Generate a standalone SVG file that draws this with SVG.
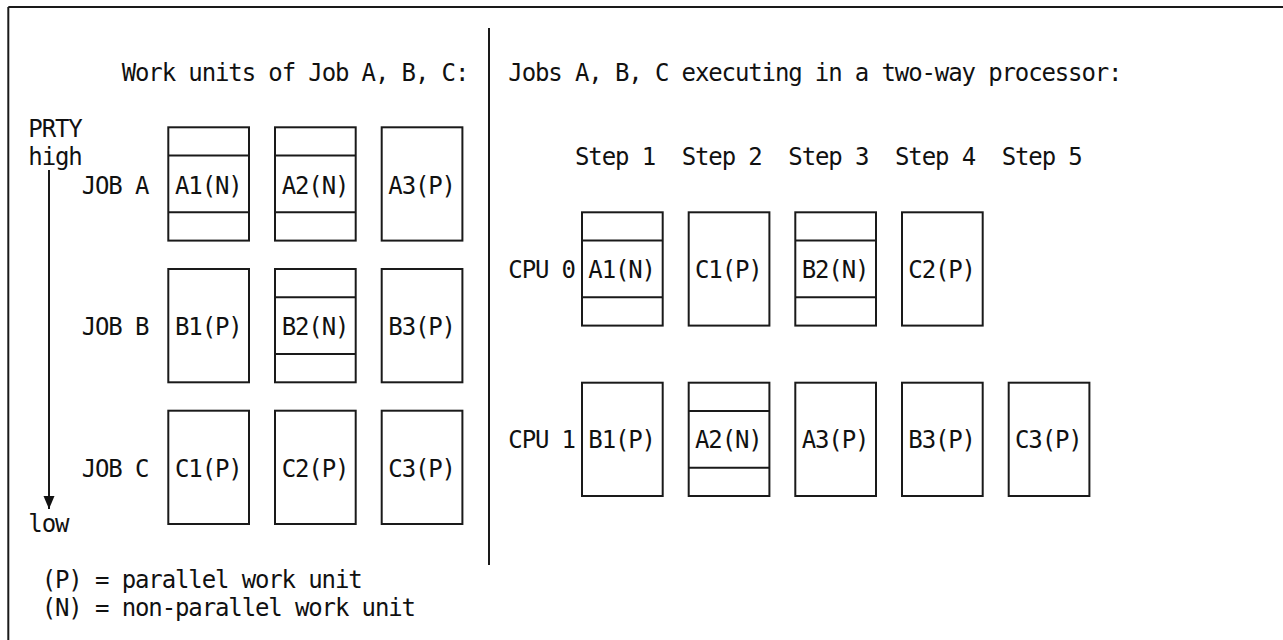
<svg xmlns="http://www.w3.org/2000/svg" width="1283" height="640" viewBox="0 0 1283 640">
<style>
text{font-family:"DejaVu Sans Mono","Liberation Mono",monospace;font-size:24px;letter-spacing:-1.12px;fill:#111}
.bx{fill:none;stroke:#1a1a1a;stroke-width:2}
.ln{stroke:#1a1a1a;stroke-width:2;fill:none}
</style>
<defs>
<marker id="ah" markerWidth="14" markerHeight="12" refX="13" refY="6" orient="auto" markerUnits="userSpaceOnUse" viewBox="0 0 14 12">
<path d="M0,0.5 L13,6 L0,11.5 Z" fill="#111"/>
</marker>
<g id="pbox"><rect class="bx" x="0" y="0" width="80.7" height="113.3"/></g>
<g id="nbox"><rect class="bx" x="0" y="0" width="80.7" height="113.3"/><line class="ln" x1="0" y1="28.3" x2="80.7" y2="28.3"/><line class="ln" x1="0" y1="85" x2="80.7" y2="85"/></g>
</defs>
<rect width="1283" height="640" fill="#fff"/>
<g id="frame">
<line class="ln" x1="8.3" y1="7" x2="1283" y2="7"/>
<line class="ln" x1="8.3" y1="7" x2="8.3" y2="640"/>
<line class="ln" x1="489" y1="28" x2="489" y2="565"/>
</g>
<g id="labels">
<text x="121.7" y="81">Work units of Job A, B, C:</text>
<text x="508.3" y="81">Jobs A, B, C executing in a two-way processor:</text>
<text x="28.3" y="137">PRTY</text>
<text x="28.3" y="165">high</text>
<text x="28.3" y="532">low</text>
<text x="81.7" y="193.5">JOB A</text>
<text x="81.7" y="335">JOB B</text>
<text x="81.7" y="476.5">JOB C</text>
<text x="41.7" y="588">(P) = parallel work unit</text>
<text x="41.7" y="616">(N) = non-parallel work unit</text>
<text x="575" y="165">Step 1</text>
<text x="681.7" y="165">Step 2</text>
<text x="788.3" y="165">Step 3</text>
<text x="895" y="165">Step 4</text>
<text x="1001.7" y="165">Step 5</text>
<text x="508.3" y="277.5">CPU 0</text>
<text x="508.3" y="447.5">CPU 1</text>
</g>
<g id="connectors">
<line class="ln" x1="49" y1="170" x2="49" y2="509" marker-end="url(#ah)"/>
</g>
<g id="jobA-A1"><use href="#nbox" x="168.3" y="127.3"/><text x="175" y="193.5">A1(N)</text></g>
<g id="jobA-A2"><use href="#nbox" x="275" y="127.3"/><text x="281.7" y="193.5">A2(N)</text></g>
<g id="jobA-A3"><use href="#pbox" x="381.7" y="127.3"/><text x="388.3" y="193.5">A3(P)</text></g>
<g id="jobB-B1"><use href="#pbox" x="168.3" y="269"/><text x="175" y="335">B1(P)</text></g>
<g id="jobB-B2"><use href="#nbox" x="275" y="269"/><text x="281.7" y="335">B2(N)</text></g>
<g id="jobB-B3"><use href="#pbox" x="381.7" y="269"/><text x="388.3" y="335">B3(P)</text></g>
<g id="jobC-C1"><use href="#pbox" x="168.3" y="410.7"/><text x="175" y="476.5">C1(P)</text></g>
<g id="jobC-C2"><use href="#pbox" x="275" y="410.7"/><text x="281.7" y="476.5">C2(P)</text></g>
<g id="jobC-C3"><use href="#pbox" x="381.7" y="410.7"/><text x="388.3" y="476.5">C3(P)</text></g>
<g id="cpu0-step1-A1"><use href="#nbox" x="582" y="212.3"/><text x="588.3" y="277.5">A1(N)</text></g>
<g id="cpu0-step2-C1"><use href="#pbox" x="688.7" y="212.3"/><text x="695" y="277.5">C1(P)</text></g>
<g id="cpu0-step3-B2"><use href="#nbox" x="795.3" y="212.3"/><text x="801.7" y="277.5">B2(N)</text></g>
<g id="cpu0-step4-C2"><use href="#pbox" x="902" y="212.3"/><text x="908.3" y="277.5">C2(P)</text></g>
<g id="cpu1-step1-B1"><use href="#pbox" x="582" y="382.7"/><text x="588.3" y="447.5">B1(P)</text></g>
<g id="cpu1-step2-A2"><use href="#nbox" x="688.7" y="382.7"/><text x="695" y="447.5">A2(N)</text></g>
<g id="cpu1-step3-A3"><use href="#pbox" x="795.3" y="382.7"/><text x="801.7" y="447.5">A3(P)</text></g>
<g id="cpu1-step4-B3"><use href="#pbox" x="902" y="382.7"/><text x="908.3" y="447.5">B3(P)</text></g>
<g id="cpu1-step5-C3"><use href="#pbox" x="1008.7" y="382.7"/><text x="1015" y="447.5">C3(P)</text></g>
</svg>
